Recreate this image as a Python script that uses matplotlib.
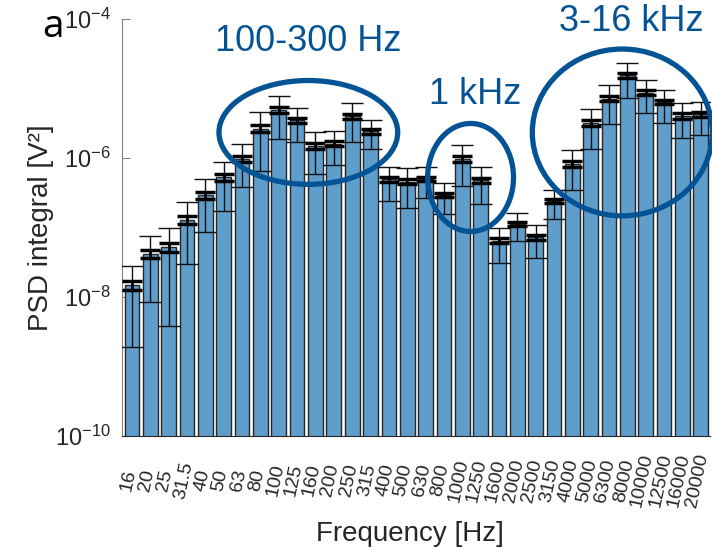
import numpy as np
import matplotlib
matplotlib.use('Agg')
import matplotlib.pyplot as plt
import matplotlib.transforms as mtrans
from matplotlib.patches import Ellipse

plt.rcParams['font.family'] = ['Liberation Sans', 'DejaVu Sans']
plt.rcParams['mathtext.fontset'] = 'custom'
plt.rcParams['mathtext.rm'] = 'Liberation Sans'

# third-octave bands
freq_labels = ['16', '20', '25', '31.5', '40', '50', '63', '80', '100', '125',
               '160', '200', '250', '315', '400', '500', '630', '800', '1000', '1250',
               '1600', '2000', '2500', '3150', '4000', '5000', '6300', '8000', '10000',
               '12500', '16000', '20000']

# mean PSD integral [V^2]
psd_mean = [1.49e-8, 4.16e-8, 5.18e-8, 1.30e-7, 2.95e-7, 5.25e-7, 9.77e-7, 2.65e-6,
            4.86e-6, 3.49e-6, 1.49e-6, 1.61e-6, 3.98e-6, 2.42e-6, 4.91e-7, 4.59e-7,
            5.02e-7, 2.95e-7, 9.77e-7, 4.75e-7, 6.47e-8, 1.13e-7, 7.23e-8, 2.39e-7,
            8.28e-7, 3.23e-6, 7.18e-6, 1.54e-5, 8.75e-6, 6.41e-6, 4.03e-6, 4.26e-6]

# standard deviation (thin bars)
psd_std = [1.3e-8, 3.3e-8, 4.8e-8, 1.0e-7, 2.1e-7, 3.5e-7, 6.0e-7, 2.0e-6,
           3.0e-6, 1.8e-6, 9.0e-7, 8.2e-7, 2.3e-6, 1.05e-6, 2.5e-7, 2.65e-7,
           2.4e-7, 1.4e-7, 5.8e-7, 2.6e-7, 3.4e-8, 5.0e-8, 3.6e-8, 1.07e-7,
           4.8e-7, 1.86e-6, 4.1e-6, 8.0e-6, 4.3e-6, 3.2e-6, 2.1e-6, 2.15e-6]

# standard error (thick bars)
psd_sem = [2.1e-9, 5.3e-9, 7.7e-9, 1.6e-8, 3.4e-8, 5.6e-8, 9.6e-8, 3.2e-7,
           4.8e-7, 2.9e-7, 1.4e-7, 1.3e-7, 3.7e-7, 1.7e-7, 4.0e-8, 4.2e-8,
           3.8e-8, 2.2e-8, 9.3e-8, 4.2e-8, 5.4e-9, 8.0e-9, 5.8e-9, 1.7e-8,
           7.7e-8, 3.0e-7, 6.6e-7, 1.3e-6, 6.9e-7, 5.1e-7, 3.4e-7, 3.4e-7]

x = np.arange(1, len(freq_labels) + 1)
mean = np.array(psd_mean)

fig = plt.figure(figsize=(7.12, 5.48), dpi=100)
ax = fig.add_axes([0.1713, 0.2044, 0.8257, 0.7609])

ax.bar(x, mean, width=0.8, color='#5f9ecb', edgecolor='#262626', linewidth=1.0, zorder=2)
ax.errorbar(x, mean, yerr=psd_std, fmt='none', ecolor='#111111', elinewidth=1.0,
            capsize=8, capthick=1.0, zorder=3)
ax.errorbar(x, mean, yerr=psd_sem, fmt='none', ecolor='black', elinewidth=2.0,
            capsize=7, capthick=2.5, zorder=4)

ax.set_yscale('log')
ax.set_ylim(1e-10, 1e-4)
ax.set_xlim(0.45, 32.5)
ax.set_yticks([1e-10, 1e-8, 1e-6, 1e-4])
ax.minorticks_off()
ax.set_xticks(x)
ax.set_xticklabels(freq_labels, rotation=78, ha='center', va='center', fontsize=14,
                   color='#262626')
ax.tick_params(axis='x', direction='in', length=4, pad=32, color='#808080')
ax.tick_params(axis='y', direction='in', length=6, labelsize=17, labelcolor='#262626',
               color='#808080', pad=8)
ax.set_axisbelow(True)

# nudge the slanted labels a little to the left
shift = mtrans.ScaledTranslation(-0.035, 0, fig.dpi_scale_trans)
for lab in ax.get_xticklabels():
    lab.set_transform(lab.get_transform() + shift)

for s in ['top', 'right']:
    ax.spines[s].set_visible(False)
ax.spines['left'].set_color('#808080')
ax.spines['bottom'].set_color('#262626')

ax.set_ylabel('PSD integral [V²]', fontsize=20, color='#262626')
ax.yaxis.set_label_coords(-0.116, 0.5)
ax.set_xlabel('Frequency [Hz]', fontsize=20, color='#262626', va='top')
ax.xaxis.set_label_coords(0.49, -0.205)

blue = '#045395'
ells = [((0.317, 0.728), 0.304, 0.249),
        ((0.593, 0.620), 0.146, 0.259),
        ((0.851, 0.728), 0.306, 0.400)]
for c, w, h in ells:
    ax.add_patch(Ellipse(c, w, h, transform=ax.transAxes, fill=False,
                         edgecolor=blue, linewidth=3.8, clip_on=False, zorder=5))

ax.text(0.316, 0.946, '100-300 Hz', transform=ax.transAxes, ha='center', va='center',
        fontsize=26, color=blue)
ax.text(0.600, 0.820, '1 kHz', transform=ax.transAxes, ha='center', va='center',
        fontsize=26, color=blue)
ax.text(0.866, 0.995, '3-16 kHz', transform=ax.transAxes, ha='center', va='center',
        fontsize=26, color=blue)

fig.text(53 / 712, 1 - 27 / 548, 'a', ha='center', va='center', fontsize=28,
         family=['Open Sans', 'DejaVu Sans'], color='black')

fig.savefig('out.png', dpi=100)
